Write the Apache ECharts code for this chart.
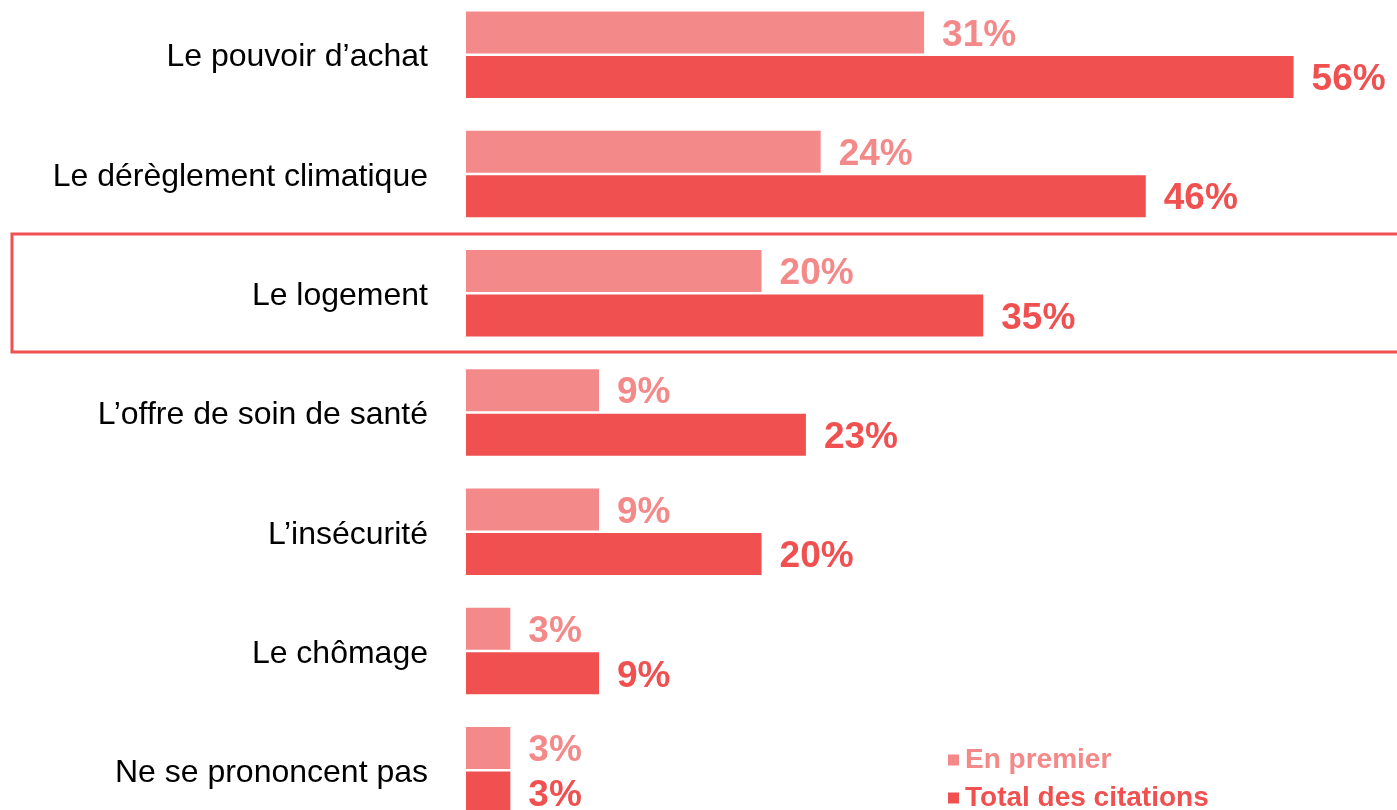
<!DOCTYPE html>
<html><head><meta charset="utf-8">
<script src="https://cdn.jsdelivr.net/npm/echarts@6/dist/echarts.min.js"></script>
<style>html,body{margin:0;padding:0;background:#fff}#c{width:1397px;height:810px}</style>
</head><body><div id="c"></div>
<script>
const categories = ["Le pouvoir d’achat","Le dérèglement climatique","Le logement","L’offre de soin de santé","L’insécurité","Le chômage","Ne se prononcent pas"];
const enPremier = [31,24,20,9,9,3,3];
const totalCitations = [56,46,35,23,20,9,3];
const seriesNames = ["En premier","Total des citations"];
const LIGHT = '#F48989', DARK = '#F05050';
const font = 'Liberation Sans, Arial, sans-serif';
const chart = echarts.init(document.getElementById('c'));
const lbl = (c) => ({show:true, position:'right', distance:18, offset:[0,3], formatter:'{c}%', color:c, fontFamily:font, fontWeight:'bold', fontSize:37});
chart.setOption({
  animation:false,
  grid:{left:466, width:931, top:-5, height:835, containLabel:false, outerBoundsMode:'none'},
  xAxis:{type:'value', min:0, max:63, show:false},
  yAxis:{type:'category', data:categories, inverse:true,
    axisLine:{show:false}, axisTick:{show:false},
    axisLabel:{margin:38, formatter:(v)=>'{a|'+v+'}',
      rich:{a:{color:'#000', fontFamily:font, fontSize:32, padding:[6,0,0,0]}}}},
  legend:{orient:'vertical', left:943, top:741, height:120, itemWidth:11, itemHeight:11, itemGap:10,
    icon:'rect',
    data:[{name:seriesNames[0], textStyle:{color:LIGHT}},{name:seriesNames[1], textStyle:{color:DARK}}],
    textStyle:{fontFamily:font, fontWeight:'bold', fontSize:28, padding:[0,0,0,1]}},
  series:[
    {name:seriesNames[0], type:'bar', data:enPremier, barWidth:42, barGap:'6%',
     itemStyle:{color:LIGHT}, label:lbl(LIGHT)},
    {name:seriesNames[1], type:'bar', data:totalCitations, barWidth:42,
     itemStyle:{color:DARK}, label:lbl(DARK)}
  ],
  graphic:[{type:'rect', shape:{x:12, y:234, width:1400, height:118},
    style:{fill:'none', stroke:'#F05050', lineWidth:3}, z:10}]
});
</script></body></html>
